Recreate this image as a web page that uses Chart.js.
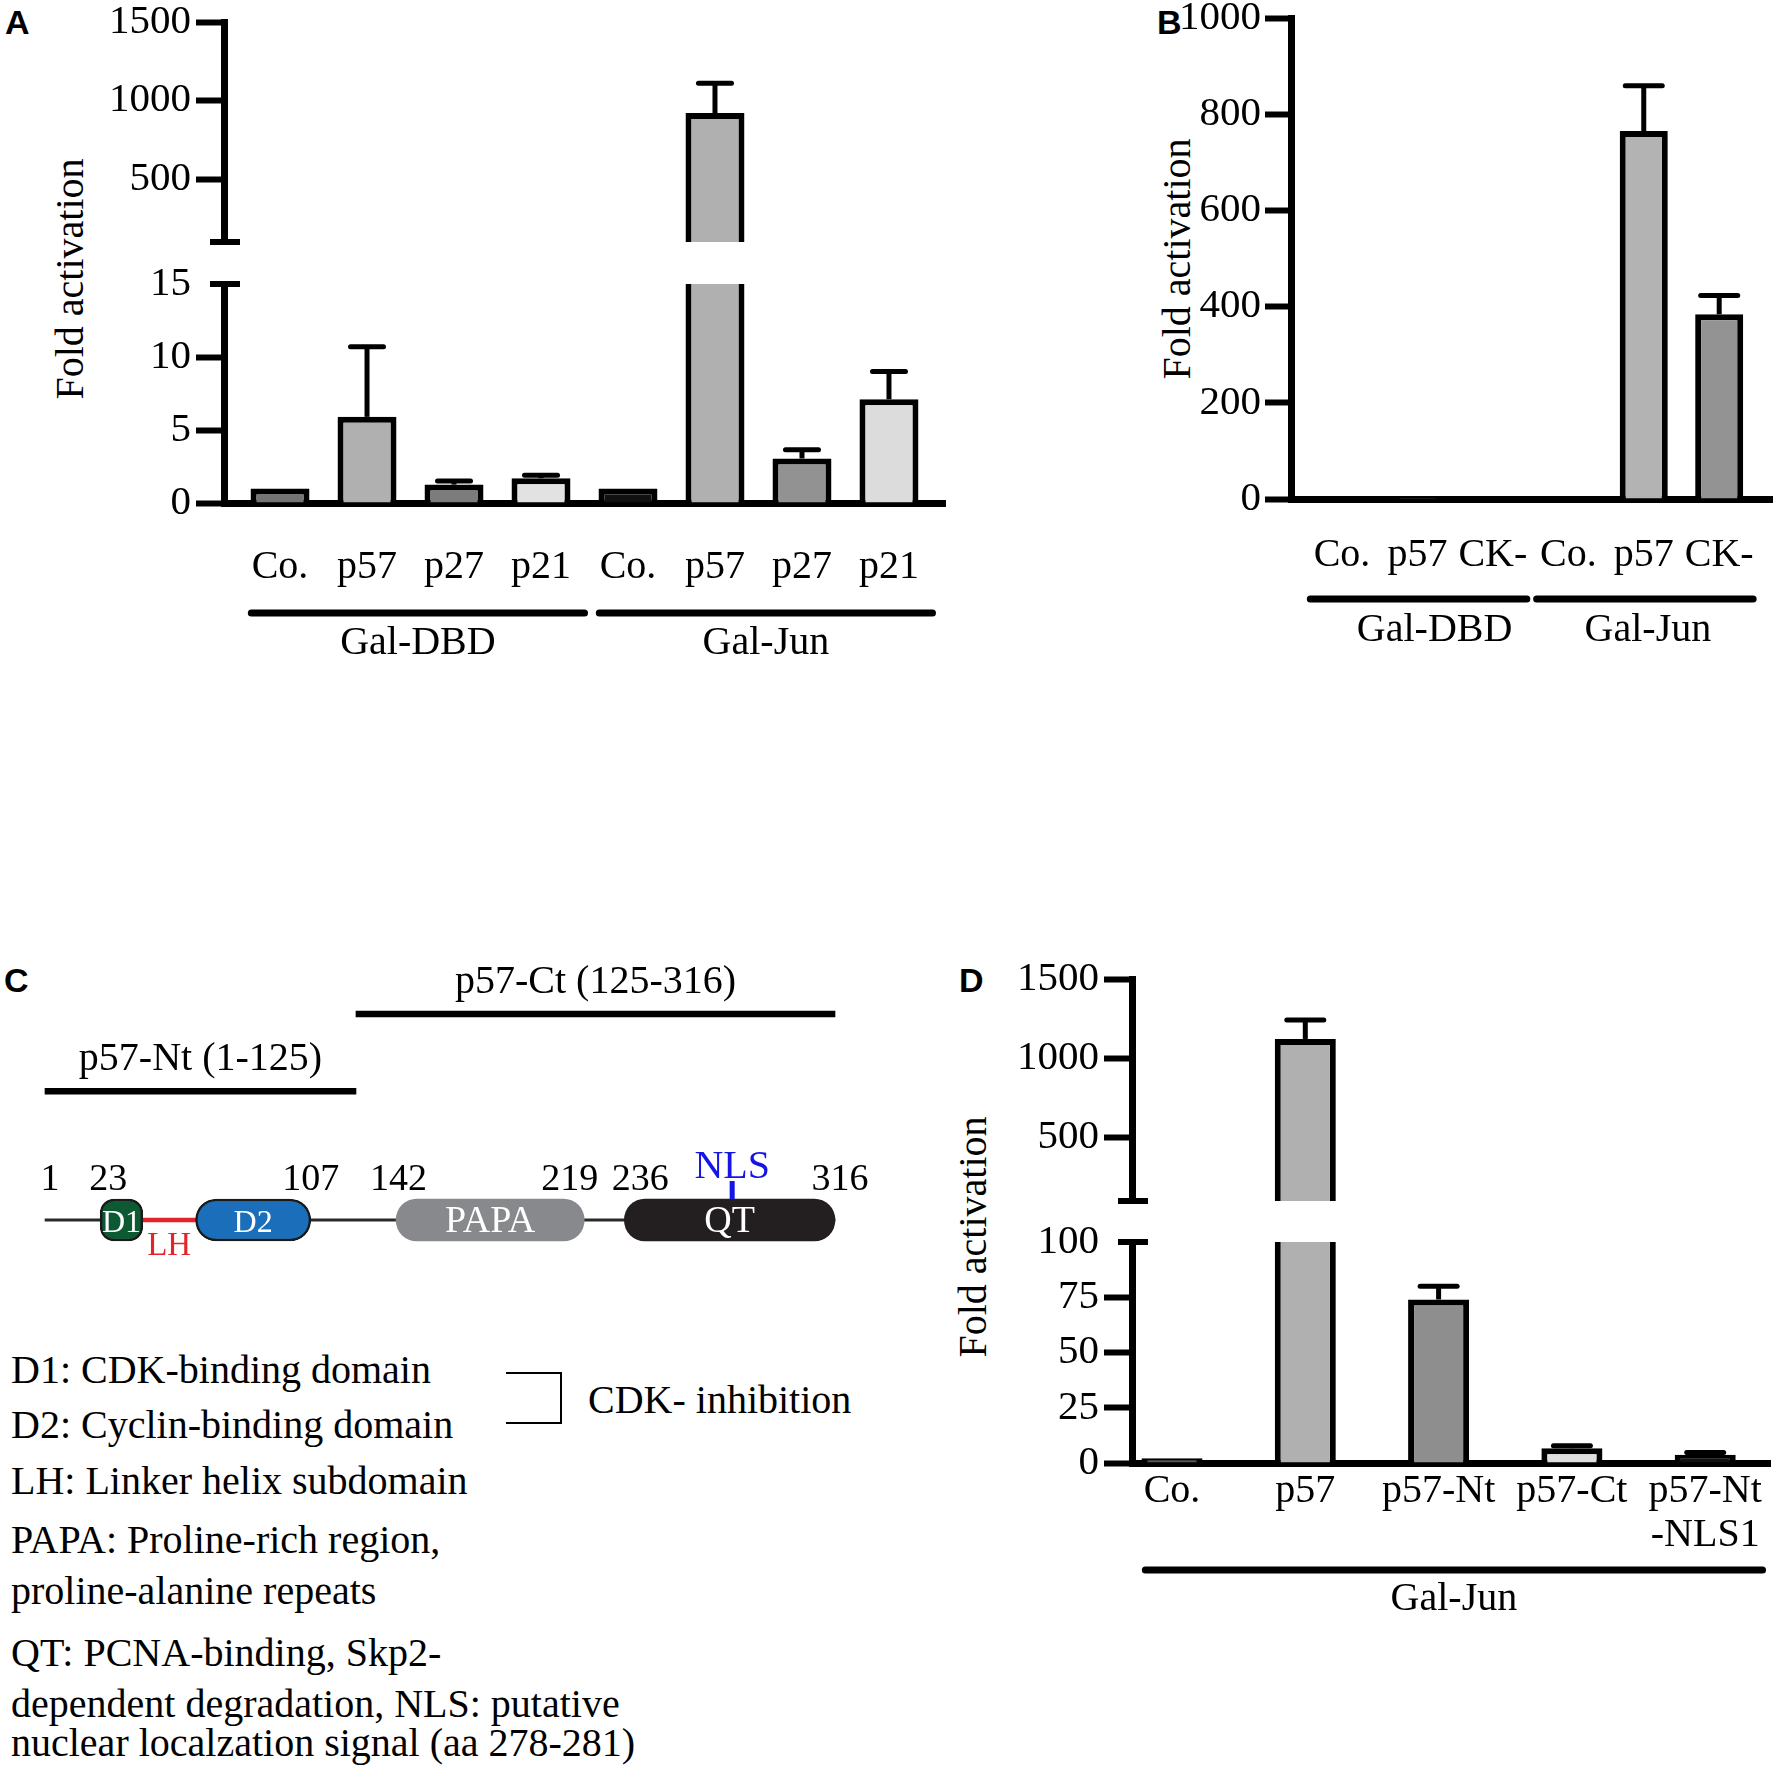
<!DOCTYPE html>
<html>
<head>
<meta charset="utf-8">
<script src="https://cdn.jsdelivr.net/npm/chart.js@4.4.0/dist/chart.umd.min.js"></script>
<style>
    html, body { margin: 0; padding: 0; background: #fff; }
    body {
        width: 1779px; height: 1773px; position: relative; overflow: hidden;
        font-family: 'Liberation Serif', 'Times New Roman', serif; color: #000;
    }
    canvas { position: absolute; }
    .txt { position: absolute; white-space: nowrap; font-size: 40px; line-height: 46px; }
    .letter {
        position: absolute; font-family: 'Liberation Sans', Arial, sans-serif;
        font-weight: bold; font-size: 34px; line-height: 34px;
    }
    .ytitle {
        position: absolute; width: 400px; height: 46px; line-height: 46px; text-align: center;
        font-size: 40px; white-space: nowrap; transform: rotate(-90deg);
    }
    .bracket {
        position: absolute; left: 506px; top: 1372px; width: 54px; height: 48px;
        border: 2px solid #000; border-left: none;
    }
</style>
</head>
<body>

<div class="letter" style="left:5px;top:5px">A</div>
<div class="letter" style="left:1157px;top:5px">B</div>
<div class="letter" style="left:4px;top:963px">C</div>
<div class="letter" style="left:959px;top:963px">D</div>

<div class="ytitle" style="left:-130px;top:256px">Fold activation</div>
<div class="ytitle" style="left:977px;top:236px">Fold activation</div>
<div class="ytitle" style="left:773px;top:1214px">Fold activation</div>

<canvas id="chartAUpper" width="960" height="262" style="left:0;top:0"></canvas>
<canvas id="chartALower" width="960" height="430" style="left:0;top:250px"></canvas>
<canvas id="chartB" width="679" height="680" style="left:1100px;top:0"></canvas>
<canvas id="chartC" width="900" height="330" style="left:0;top:940px"></canvas>
<canvas id="chartDUpper" width="879" height="281" style="left:900px;top:940px"></canvas>
<canvas id="chartDLower" width="879" height="430" style="left:900px;top:1210px"></canvas>

<div class="txt" style="left:11px;top:1347px">D1: CDK-binding domain</div>
<div class="txt" style="left:11px;top:1402px">D2: Cyclin-binding domain</div>
<div class="txt" style="left:11px;top:1458px">LH: Linker helix subdomain</div>
<div class="txt" style="left:11px;top:1517px">PAPA: Proline-rich region,</div>
<div class="txt" style="left:11px;top:1568px">proline-alanine repeats</div>
<div class="txt" style="left:11px;top:1630px">QT: PCNA-binding, Skp2-</div>
<div class="txt" style="left:11px;top:1681px">dependent degradation, NLS: putative</div>
<div class="txt" style="left:11px;top:1720px">nuclear localzation signal (aa 278-281)</div>
<div class="bracket"></div>
<div class="txt" style="left:588px;top:1377px">CDK- inhibition</div>

<script>
const SERIF = "'Liberation Serif', 'Times New Roman', serif";

// ---- Panel A: fold activation, Gal-DBD / Gal-Jun ----
const labelsA = ['Co.', 'p57', 'p27', 'p21', 'Co.', 'p57', 'p27', 'p21'];
const valuesA = [1.0, 5.9, 1.26, 1.7, 1.0, 921, 3.05, 7.1];
const errorsA = [0, 4.8, 0.25, 0.2, 0, 190, 0.6, 1.9];
const colorsA = ['#747474', '#b0b0b0', '#7c7c7c', '#e2e2e2', '#111111', '#b0b0b0', '#929292', '#dcdcdc'];
const groupsA = ['Gal-DBD', 'Gal-Jun'];
const groupSpansA = [[0, 3], [4, 7]];
const upperRangeA = [100, 1500];
const upperTicksA = [500, 1000, 1500];
const lowerRangeA = [0, 15];
const lowerTicksA = [0, 5, 10, 15];

// ---- Panel B ----
const labelsB = ['Co.', 'p57', 'CK-', 'Co.', 'p57', 'CK-'];
const valuesB = [1, 2, 1, 1, 765, 384];
const errorsB = [0, 0, 0, 0, 94, 39];
const colorsB = ['#777777', '#b3b3b3', '#939393', '#111111', '#b3b3b3', '#939393'];
const groupsB = ['Gal-DBD', 'Gal-Jun'];
const groupSpansB = [[0, 2], [3, 5]];
const ticksB = [0, 200, 400, 600, 800, 1000];

// ---- Panel C: p57 domain map (amino acids) ----
const proteinRows = ['Ct', '', '', 'Nt', '', '', '', '', 'protein'];
const fragmentNames = ['p57-Ct (125-316)', 'p57-Nt (1-125)'];
const fragmentRows = [0, 3];
const fragmentRanges = [[125, 316], [1, 125]];
const proteinRow = 8;
const backboneRange = [1, 316];
const linkerRange = [40, 61];
const domainNames = ['D1', 'D2', 'PAPA', 'QT'];
const domainRanges = [[23, 40], [61, 107], [141, 216], [232, 316]];
const domainColors = ['#0d5a32', '#1b6fba', '#88898c', '#231f20'];
const positionMarks = [1, 23, 107, 142, 219, 236, 316];
const nlsPosition = 275;

// ---- Panel D ----
const labelsD = ['Co.', 'p57', 'p57-Nt', 'p57-Ct', ['p57-Nt', '-NLS1']];
const valuesD = [2.2, 1122, 74, 6.7, 3.7];
const errorsD = [0, 119, 6, 1.1, 1.0];
const colorsD = ['#555555', '#b0b0b0', '#8e8e8e', '#dedede', '#111111'];
const groupsD = ['Gal-Jun'];
const groupSpansD = [[0, 4]];
const upperRangeD = [100, 1500];
const upperTicksD = [500, 1000, 1500];
const lowerRangeD = [0, 100];
const lowerTicksD = [0, 25, 50, 75, 100];

Chart.defaults.color = '#000';
Chart.defaults.font.family = SERIF;

// Error bars (upward only), drawn from the bar top through the y scale
const errorBarPlugin = {
    id: 'errorBars',
    afterDatasetsDraw(chart, args, opts) {
        const ctx = chart.ctx;
        const y = chart.scales.y;
        chart.data.datasets.forEach((ds, di) => {
            if (!ds.errorBars) return;
            const meta = chart.getDatasetMeta(di);
            meta.data.forEach((bar, i) => {
                const raw = ds.data[i];
                if (!raw || raw.y == null) return;
                const top = Array.isArray(raw.y) ? raw.y[1] : raw.y;
                const err = ds.errorBars[raw.x];
                if (!err || top > y.max || top < y.min) return;
                const y0 = y.getPixelForValue(top);
                const y1 = y.getPixelForValue(top + err);
                const cap = opts.cap || 34;
                ctx.save();
                ctx.strokeStyle = '#000';
                ctx.lineWidth = 5;
                ctx.beginPath();
                ctx.moveTo(bar.x, y0);
                ctx.lineTo(bar.x, y1);
                ctx.stroke();
                ctx.lineCap = 'round';
                ctx.beginPath();
                ctx.moveTo(bar.x - cap / 2, y1);
                ctx.lineTo(bar.x + cap / 2, y1);
                ctx.stroke();
                ctx.restore();
            });
        });
    }
};

// Short mark across the y axis where the axis is broken
const axisBreakPlugin = {
    id: 'axisBreak',
    afterDraw(chart, args, opts) {
        if (!opts.edge) return;
        const { ctx, chartArea } = chart;
        const y = opts.edge === 'top' ? chartArea.top : chartArea.bottom;
        ctx.save();
        ctx.fillStyle = '#000';
        ctx.fillRect(chartArea.left - 14, y - 3, 30, 6);
        ctx.restore();
    }
};

// Group bars and labels under the category labels
const groupPlugin = {
    id: 'groups',
    afterDraw(chart, args, opts) {
        if (!opts.names) return;
        const { ctx, chartArea } = chart;
        const x = chart.scales.x;
        const cw = x.getPixelForValue(1) - x.getPixelForValue(0);
        opts.names.forEach((name, g) => {
            const [a, b] = opts.spans[g];
            const x0 = x.getPixelForValue(a) - opts.padL * cw;
            const x1 = x.getPixelForValue(b) + opts.padR * cw;
            const ly = chartArea.bottom + opts.lineOffset;
            ctx.save();
            ctx.strokeStyle = '#000';
            ctx.lineWidth = 7;
            ctx.lineCap = 'round';
            ctx.beginPath();
            ctx.moveTo(x0, ly);
            ctx.lineTo(x1, ly);
            ctx.stroke();
            ctx.font = `40px ${SERIF}`;
            ctx.fillStyle = '#000';
            ctx.textAlign = 'center';
            ctx.textBaseline = 'middle';
            const shift = opts.labelShift ? opts.labelShift[g] : 0;
            ctx.fillText(name, (x0 + x1) / 2 + shift, chartArea.bottom + opts.labelOffset);
            ctx.restore();
        });
    }
};

Chart.register(errorBarPlugin, axisBreakPlugin, groupPlugin);

function barChart(id, cfg) {
    const hideTick = cfg.hideTickAt;
    return new Chart(document.getElementById(id), {
        type: 'bar',
        data: {
            datasets: [{
                data: cfg.data,
                errorBars: cfg.errors,
                backgroundColor: cfg.colors,
                borderColor: '#000',
                borderWidth: 6,
                barPercentage: cfg.barPct,
                categoryPercentage: 1,
                clip: 0
            }]
        },
        options: {
            responsive: false,
            animation: false,
            layout: { padding: cfg.padding },
            plugins: {
                legend: { display: false },
                tooltip: { enabled: false },
                errorBars: { cap: cfg.cap },
                axisBreak: { edge: cfg.breakEdge },
                groups: cfg.groups || {}
            },
            scales: {
                x: {
                    type: 'linear',
                    offset: false,
                    min: cfg.xRange[0],
                    max: cfg.xRange[1],
                    display: cfg.showX,
                    z: 1,
                    grid: { display: false, offset: false },
                    border: { display: true, width: 7, color: '#000' },
                    afterBuildTicks: s => { s.ticks = cfg.labels.map((_, i) => ({ value: i })); },
                    ticks: {
                        color: '#000',
                        font: { family: SERIF, size: 40, lineHeight: cfg.labelLH || 1.2 },
                        padding: cfg.labelPad || 0,
                        maxRotation: 0,
                        autoSkip: false,
                        callback: v => cfg.labels[v]
                    },
                    afterFit: s => {
                        s.height = cfg.xHeight || 0;
                        s.paddingLeft = 0;
                        s.paddingRight = 0;
                    }
                },
                y: {
                    min: cfg.range[0],
                    max: cfg.range[1],
                    z: 1,
                    afterBuildTicks: s => { s.ticks = cfg.ticks.map(v => ({ value: v })); },
                    afterFit: s => {
                        s.width = cfg.yWidth;
                        s.paddingTop = 0;
                        s.paddingBottom = 0;
                    },
                    grid: {
                        drawOnChartArea: false,
                        drawTicks: true,
                        tickLength: cfg.tickLen || 28,
                        tickWidth: 6,
                        color: '#000',
                        tickColor: c => (hideTick !== undefined && c.tick && c.tick.value === hideTick) ? 'rgba(0,0,0,0)' : '#000'
                    },
                    border: { display: true, width: 7, color: '#000' },
                    ticks: {
                        color: '#000',
                        font: { family: SERIF, size: 41, lineHeight: 1 },
                        padding: cfg.tickPad || 5,
                        callback: v => String(v)
                    }
                }
            }
        }
    });
}

// One point per category: x is the category index
const points = vals => vals.map((v, i) => ({ x: i, y: v }));
// Values above the break: floating bar from the break to the value
const upperPoints = (vals, min) => vals.map((v, i) => ({ x: i, y: v > min ? [min, v] : null }));

// Panel A
barChart('chartAUpper', {
    labels: labelsA, data: upperPoints(valuesA, upperRangeA[0]), errors: errorsA, colors: colorsA,
    barPct: 0.678, cap: 33, range: upperRangeA, ticks: upperTicksA, xRange: [-0.644, 7.644],
    padding: { top: 22, right: 15, bottom: 20, left: 0 }, yWidth: 224,
    showX: false, breakEdge: 'bottom'
});
barChart('chartALower', {
    labels: labelsA, data: points(valuesA), errors: errorsA, colors: colorsA,
    barPct: 0.678, cap: 33, range: lowerRangeA, ticks: lowerTicksA, hideTickAt: lowerRangeA[1], xRange: [-0.644, 7.644],
    padding: { top: 34, right: 15, bottom: 0, left: 0 }, yWidth: 224,
    showX: true, xHeight: 177, labelPad: 32, breakEdge: 'top',
    groups: { names: groupsA, spans: groupSpansA, padL: 0.33, padR: 0.5, lineOffset: 110, labelOffset: 140 }
});

// Panel B
barChart('chartB', {
    labels: labelsB, data: points(valuesB), errors: errorsB, colors: colorsB,
    barPct: 0.637, cap: 37, range: [0, 1000], ticks: ticksB, xRange: [-0.676, 5.70],
    padding: { top: 18, right: 7, bottom: 0, left: 0 }, yWidth: 191, tickLen: 26, tickPad: 4,
    showX: true, xHeight: 181, labelPad: 24,
    groups: { names: groupsB, spans: groupSpansB, padL: 0.42, padR: 0.45, lineOffset: 100, labelOffset: 131, labelShift: [16, 3] }
});

// Panel D
barChart('chartDUpper', {
    labels: labelsD, data: upperPoints(valuesD, upperRangeD[0]), errors: errorsD, colors: colorsD,
    barPct: 0.458, cap: 37, range: upperRangeD, ticks: upperTicksD, xRange: [-0.30, 4.486],
    padding: { top: 39, right: 9, bottom: 20, left: 0 }, yWidth: 232,
    showX: false, breakEdge: 'bottom'
});
barChart('chartDLower', {
    labels: labelsD, data: points(valuesD), errors: errorsD, colors: colorsD,
    barPct: 0.458, cap: 37, range: lowerRangeD, ticks: lowerTicksD, hideTickAt: lowerRangeD[1], xRange: [-0.30, 4.486],
    padding: { top: 32, right: 9, bottom: 0, left: 0 }, yWidth: 232,
    showX: true, xHeight: 177, labelPad: -2, labelLH: 1.1, breakEdge: 'top',
    groups: { names: groupsD, spans: groupSpansD, padL: 0.2, padR: 0.43, lineOffset: 107, labelOffset: 136 }
});

// Panel C: labels for the domain map
const proteinLabelPlugin = {
    id: 'proteinLabels',
    afterDatasetsDraw(chart, args, opts) {
        if (!opts.on) return;
        const { ctx } = chart;
        const x = chart.scales.x, y = chart.scales.y;
        const rowY = y.getPixelForValue(proteinRow);
        ctx.save();
        ctx.textAlign = 'center';
        ctx.textBaseline = 'alphabetic';
        ctx.fillStyle = '#000';
        ctx.font = `40px ${SERIF}`;
        fragmentNames.forEach((name, i) => {
            const r = fragmentRanges[i];
            ctx.fillText(name, (x.getPixelForValue(r[0]) + x.getPixelForValue(r[1])) / 2, y.getPixelForValue(fragmentRows[i]) - 21);
        });
        ctx.font = `38px ${SERIF}`;
        positionMarks.forEach((p, k) => {
            ctx.fillText(String(p), x.getPixelForValue(p) + opts.markShift[k], rowY - 30);
        });
        domainNames.forEach((name, i) => {
            const r = domainRanges[i];
            ctx.fillStyle = '#fff';
            ctx.font = `${i < 2 ? 32 : 38}px ${SERIF}`;
            ctx.fillText(name, (x.getPixelForValue(r[0]) + x.getPixelForValue(r[1])) / 2, rowY + 12);
        });
        ctx.fillStyle = '#e3242b';
        ctx.font = `33px ${SERIF}`;
        ctx.fillText('LH', (x.getPixelForValue(linkerRange[0]) + x.getPixelForValue(linkerRange[1])) / 2, rowY + 35);
        const nx = x.getPixelForValue(nlsPosition);
        ctx.fillStyle = '#1515e6';
        ctx.font = `40px ${SERIF}`;
        ctx.fillText('NLS', nx, rowY - 42);
        ctx.fillRect(nx - 2.5, rowY - 39, 5, 18);
        ctx.restore();
    }
};

const rowData = (row, range) => proteinRows.map((_, i) => i === row ? range : null);

new Chart(document.getElementById('chartC'), {
    type: 'bar',
    data: {
        labels: proteinRows,
        datasets: [
            { data: rowData(proteinRow, backboneRange), backgroundColor: '#2a2a2a', barThickness: 2.5, grouped: false, clip: false, order: 4 },
            { data: rowData(proteinRow, linkerRange), backgroundColor: '#e3242b', barThickness: 4, grouped: false, clip: false, order: 3 },
            {
                data: proteinRows.map((_, i) => {
                    const k = fragmentRows.indexOf(i);
                    return k >= 0 ? fragmentRanges[k] : null;
                }),
                backgroundColor: '#000', barThickness: 6, grouped: false, clip: false, order: 2
            },
            ...domainNames.map((name, i) => ({
                data: rowData(proteinRow, domainRanges[i]),
                backgroundColor: domainColors[i],
                borderColor: '#1a1a1a',
                borderWidth: i < 2 ? 2.5 : 0,
                borderRadius: i === 0 ? 14 : 21,
                borderSkipped: false,
                barThickness: 42,
                grouped: false,
                clip: false,
                order: 1
            }))
        ]
    },
    options: {
        indexAxis: 'y',
        responsive: false,
        animation: false,
        layout: { padding: { left: 45, right: 65, top: 61.1, bottom: 37.1 } },
        scales: {
            x: { type: 'linear', min: backboneRange[0], max: backboneRange[1], display: false },
            y: { display: false }
        },
        plugins: {
            legend: { display: false },
            tooltip: { enabled: false },
            proteinLabels: { on: true, markShift: [5, 8, 0, 0, -22, 6, 5] }
        }
    },
    plugins: [proteinLabelPlugin]
});
</script>
</body>
</html>
